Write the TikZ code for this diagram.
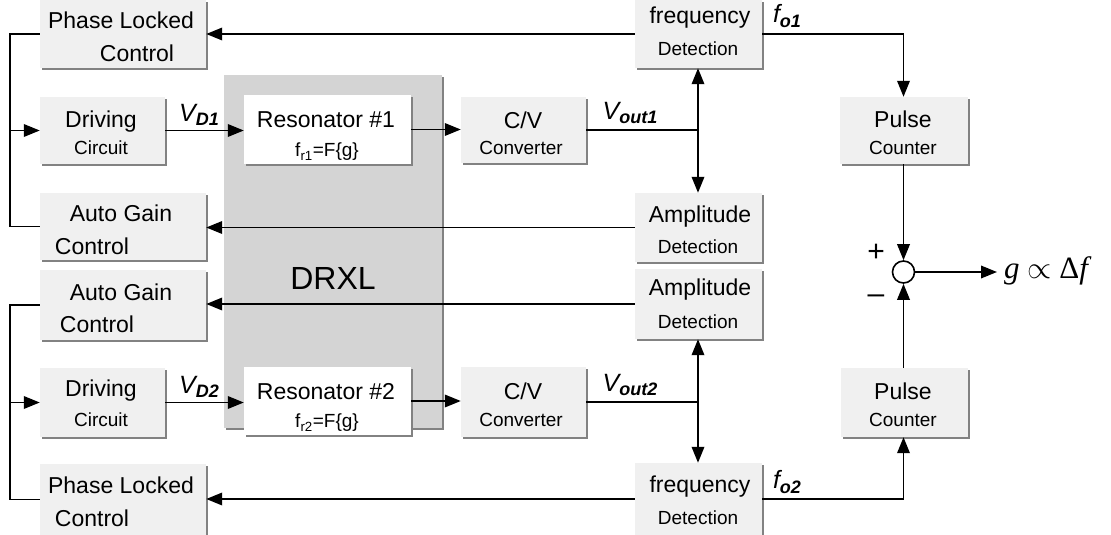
\documentclass[tikz,border=0pt]{standalone}
\usepackage{fontspec}
\setmainfont{Liberation Sans}
\newfontfamily\seriffont{Liberation Serif}
\usetikzlibrary{shadows,arrows.meta}
\definecolor{boxfill}{RGB}{240,240,240}
\definecolor{shadowgray}{RGB}{130,130,130}
\definecolor{drxlfill}{RGB}{212,212,212}
\begin{document}
\begin{tikzpicture}[x=1pt,y=-1pt,
  box/.style={rectangle, inner sep=0pt, fill=boxfill, draw=none,
    drop shadow={shadow xshift=2pt, shadow yshift=-2pt, fill=shadowgray, opacity=1}},
  whitebox/.style={box, fill=white},
  drxlbox/.style={box, fill=drxlfill},
  big/.style={inner sep=0pt, font=\fontsize{23}{26}\selectfont},
  small/.style={inner sep=0pt, font=\fontsize{19}{22}\selectfont},
  lbl/.style={inner sep=0pt, font=\fontsize{25}{27}\selectfont\itshape},
  conn/.style={line width=1.9pt, -{Triangle[length=16pt,width=12.5pt]}},
  wire/.style={line width=1.9pt},
]
\useasboundingbox (0,0) rectangle (1111,535);

% DRXL container
\node[drxlbox, minimum width=218pt, minimum height=353pt] (drxl) at (333,251.5) {};
\node[inner sep=0pt, font=\fontsize{32}{34}\selectfont] (drxlt) at (333,278) {DRXL};

% Boxes
\node[box, minimum width=166pt, minimum height=68pt] (plc1) at (123,34) {};
\node[box, minimum width=125pt, minimum height=67pt] (drv1) at (102.5,130.5) {};
\node[box, minimum width=166pt, minimum height=67pt] (agc1) at (123,226.5) {};
\node[box, minimum width=166pt, minimum height=70pt] (agc2) at (123,305) {};
\node[box, minimum width=125pt, minimum height=69pt] (drv2) at (102.5,402.5) {};
\node[box, minimum width=166pt, minimum height=71pt] (plc2) at (123,499.5) {};

\node[whitebox, minimum width=167pt, minimum height=69pt] (res1) at (327.5,129.5) {};
\node[whitebox, minimum width=167pt, minimum height=68pt] (res2) at (327.5,401) {};

\node[box, minimum width=125pt, minimum height=66pt] (cv1) at (523.5,130) {};
\node[box, minimum width=125pt, minimum height=70pt] (cv2) at (523.5,402) {};

\node[box, minimum width=127pt, minimum height=68pt] (fd1) at (698.5,34) {};
\node[box, minimum width=127pt, minimum height=69pt] (ad1) at (698.5,227.5) {};
\node[box, minimum width=127pt, minimum height=70pt] (ad2) at (698.5,304) {};
\node[box, minimum width=127pt, minimum height=72pt] (fd2) at (698.5,499) {};

\node[box, minimum width=128pt, minimum height=67pt] (pc1) at (904,130.5) {};
\node[box, minimum width=127pt, minimum height=69pt] (pc2) at (904.5,402.5) {};

\node[circle, draw, fill=white, line width=1.6pt, minimum size=22pt, inner sep=0pt] (sum) at (903.5,272) {};

% Texts
\node[big] (t1) at (121,20) {Phase Locked};
\node[big] (t2) at (137,53) {Control};
\node[big] (t3) at (101,122) {Driving};
\node[small] (t4) at (101,148) {Circuit};
\node[big] (t5) at (121,213) {Auto Gain};
\node[big] (t6) at (92,246) {Control};
\node[big] (t7) at (121,292) {Auto Gain};
\node[big] (t8) at (97,324) {Control};
\node[big] (t9) at (101,391) {Driving};
\node[small] (t10) at (101,420) {Circuit};
\node[big] (t11) at (121,485) {Phase Locked};
\node[big] (t12) at (92,518) {Control};

\node[big] (t13) at (326,120) {Resonator \#1};
\node[small] (t14) at (327,152) {f\textsubscript{r1}=F\{g\}};
\node[big] (t15) at (326,392) {Resonator \#2};
\node[small] (t16) at (327,423) {f\textsubscript{r2}=F\{g\}};

\node[big] (t17) at (523,120) {C/V};
\node[small] (t18) at (521,148) {Converter};
\node[big] (t19) at (523,391) {C/V};
\node[small] (t20) at (521,420) {Converter};

\node[big] (t21) at (700,18) {frequency};
\node[small] (t22) at (698,49) {Detection};
\node[big] (t23) at (700,217) {Amplitude};
\node[small] (t24) at (698,247) {Detection};
\node[big] (t25) at (700,290) {Amplitude};
\node[small] (t26) at (698,322) {Detection};
\node[big] (t27) at (700,487) {frequency};
\node[small] (t28) at (698,518) {Detection};

\node[big] (t29) at (903,119) {Pulse};
\node[small] (t30) at (903,148) {Counter};
\node[big] (t31) at (903,391) {Pulse};
\node[small] (t32) at (903,420) {Counter};

% Signal labels
\newcommand{\sig}[2]{#1\raisebox{-0.35ex}{\fontsize{18}{18}\selectfont\bfseries\itshape #2}}
\node[lbl] (vd1) at (199,115) {\sig{V}{D1}};
\node[lbl] (vd2) at (199,387) {\sig{V}{D2}};
\node[lbl] (vo1) at (630,113) {\sig{V}{out1}};
\node[lbl] (vo2) at (630,385) {\sig{V}{out2}};
\node[lbl] (fo1) at (787,16) {\sig{f}{o1}};
\node[lbl] (fo2) at (787,482) {\sig{f}{o2}};
\node[inner sep=0pt, font=\fontsize{30}{30}\selectfont] (plus) at (876,253) {+};
\node[inner sep=0pt, font=\fontsize{30}{30}\selectfont] (minus) at (876,299) {\textendash};
\node[inner sep=0pt, font=\fontsize{31}{32}\selectfont\seriffont, anchor=west] (gout) at (1004,271) {\textit{g} \scalebox{1.25}{$\propto$} Δ\textit{f}};

% Coordinates
\coordinate (lx) at (10,0);
\coordinate (j1) at (698,130);
\coordinate (j2) at (698,402);
\coordinate (out) at (997,272);

% Left feedback loops
\draw[wire] (plc1.west) -- (plc1.west -| lx) -- (agc1.west -| lx) -- (agc1.west);
\draw[conn] (drv1.west -| lx) -- (drv1.west);
\draw[wire] (agc2.west) -- (agc2.west -| lx) -- (plc2.west -| lx) -- (plc2.west);
\draw[conn] (drv2.west -| lx) -- (drv2.west);

% Forward chain
\draw[conn] (drv1.east) -- (drv1.east -| res1.west);
\draw[conn] (res1.east) -- (res1.east -| cv1.west);
\draw[wire] (cv1.east |- j1) -- (j1);
\draw[conn] (j1) -- (j1 |- fd1.south);
\draw[conn] (j1) -- (j1 |- ad1.north);

\draw[conn] (drv2.east) -- (drv2.east -| res2.west);
\draw[conn] (res2.east) -- (res2.east -| cv2.west);
\draw[wire] (cv2.east |- j2) -- (j2);
\draw[conn] (j2) -- (j2 |- ad2.south);
\draw[conn] (j2) -- (j2 |- fd2.north);

% Feedback to control boxes
\draw[conn] (fd1.west) -- (fd1.west -| plc1.east);
\draw[conn] (ad1.west) -- (ad1.west -| agc1.east);
\draw[conn] (ad2.west) -- (ad2.west -| agc2.east);
\draw[conn] (fd2.west) -- (fd2.west -| plc2.east);

% Pulse counters and difference
\draw[conn] (fd1.east) -| (pc1.north -| sum);
\draw[conn] (pc1.south -| sum) -- (sum.north);
\draw[conn] (fd2.east) -| (pc2.south -| sum);
\draw[conn] (pc2.north -| sum) -- (sum.south);
\draw[conn] (sum.east) -- (out);
\end{tikzpicture}
\end{document}
